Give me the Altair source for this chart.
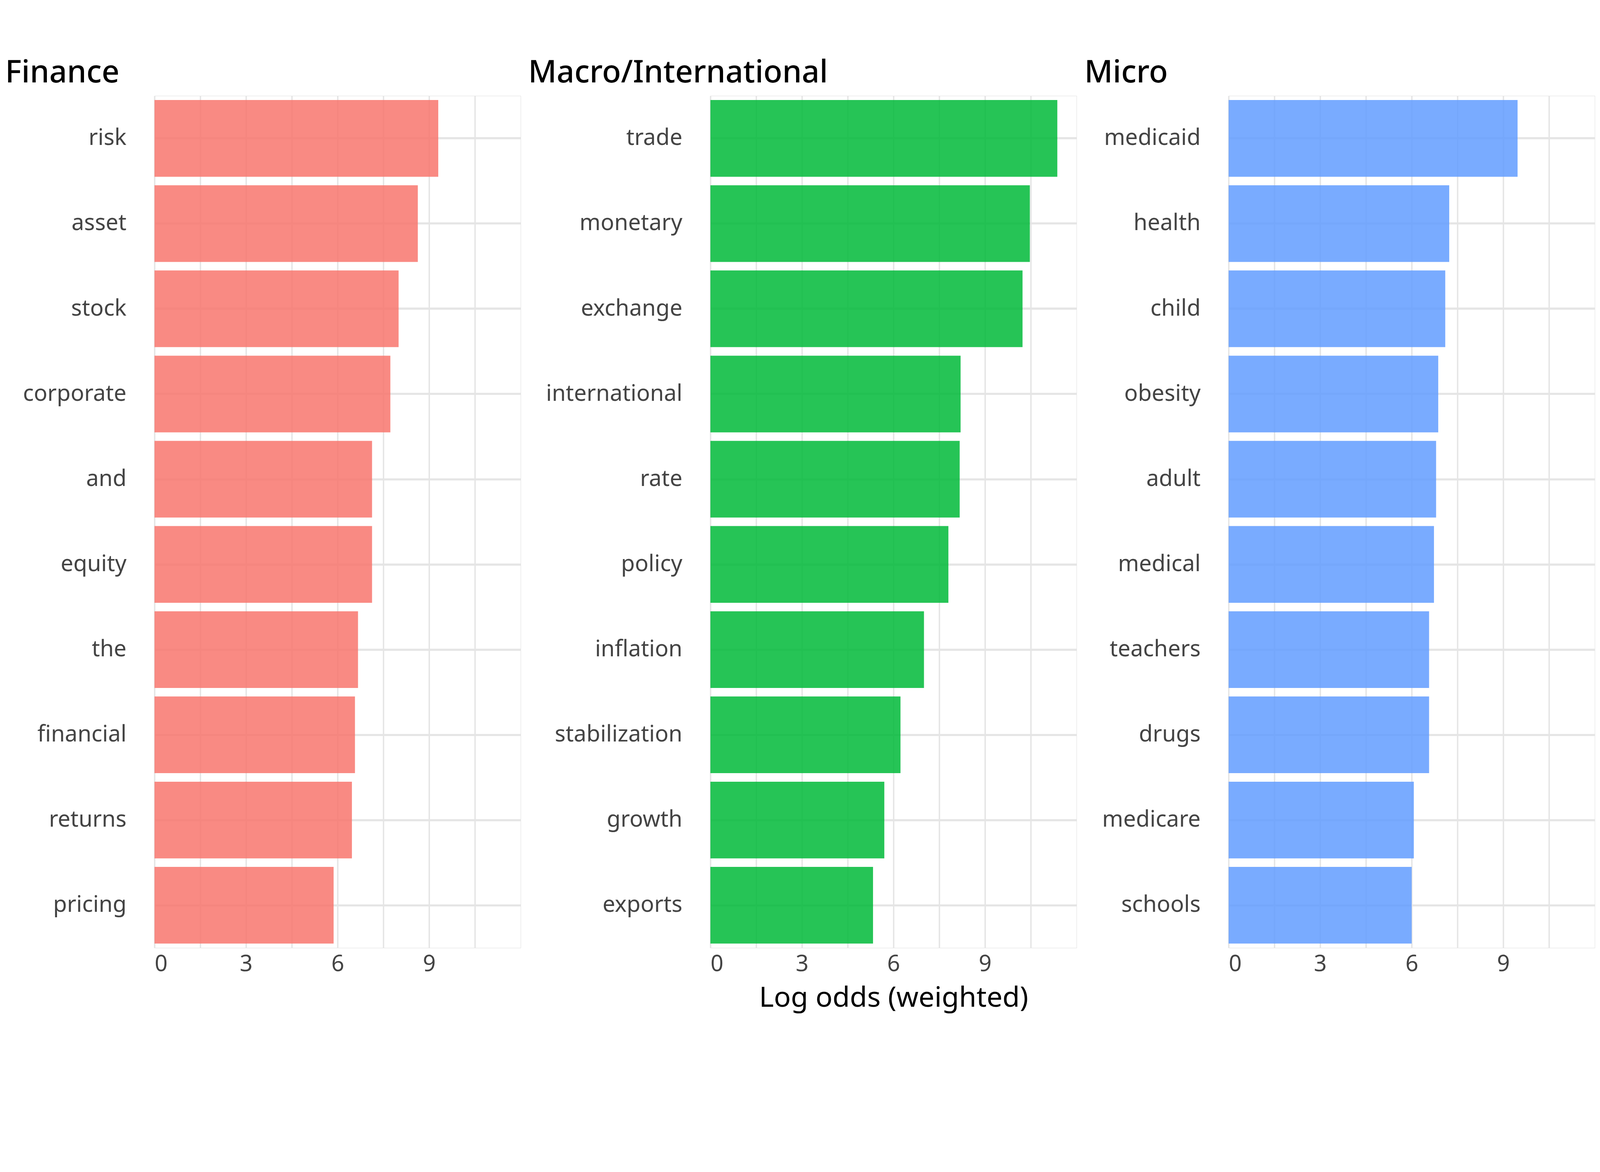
import altair as alt
import pandas as pd

fin_words = ["risk","asset","stock","corporate","and","equity","the","financial","returns","pricing"]
fin_vals = [9.3,8.63,8.0,7.73,7.13,7.13,6.67,6.57,6.47,5.87]
mac_words = ["trade","monetary","exchange","international","rate","policy","inflation","stabilization","growth","exports"]
mac_vals = [11.37,10.47,10.23,8.2,8.17,7.8,7.0,6.23,5.7,5.33]
mic_words = ["medicaid","health","child","obesity","adult","medical","teachers","drugs","medicare","schools"]
mic_vals = [9.47,7.23,7.1,6.87,6.8,6.73,6.57,6.57,6.07,6.0]

panels = [("Finance", fin_words, fin_vals, "#F8766D", None),
          ("Macro/International", mac_words, mac_vals, "#00BA38", "Log odds (weighted)"),
          ("Micro", mic_words, mic_vals, "#619CFF", None)]

FONT = "Noto Sans"
charts = []
for name, words, vals, color, xt in panels:
    df = pd.DataFrame({"word": words, "value": vals})
    xkw = dict(values=[0,1.5,3,4.5,6,7.5,9,10.5], labelExpr="datum.value % 3 == 0 ? datum.label : ''",
               grid=True, gridColor="#e5e5e5", gridWidth=4, domain=False, ticks=False,
               labelFontSize=64, labelColor="#444", labelFont=FONT, labelPadding=15)
    if xt:
        xkw.update(title=xt, titleFontSize=80, titleFont=FONT, titleFontWeight="normal", titlePadding=25)
    else:
        xkw.update(title=None)
    yaxis = alt.Axis(title=None, grid=True, gridColor="#e5e5e5", gridWidth=6, domain=False, ticks=False,
                     labelFontSize=64, labelColor="#444", labelFont=FONT, labelPadding=80, labelLimit=2000)
    c = alt.Chart(df).mark_bar(color=color, opacity=0.85).encode(
        x=alt.X("value:Q", scale=alt.Scale(domain=[0, 12], nice=False), axis=alt.Axis(**xkw)),
        y=alt.Y("word:N", sort=words, scale=alt.Scale(paddingInner=0.1, paddingOuter=0.05), axis=yaxis),
    ).properties(width=1040, height=2420,
                 title=alt.TitleParams(name, anchor="start", fontSize=88, font=FONT, fontWeight=500,
                                       offset=20, dx=-50))
    charts.append(c)

chart = alt.hconcat(*charts, spacing=20).configure_view(stroke=None).configure(background="white")
chart.save("out.html", embed_options={"renderer": "svg", "actions": False})
